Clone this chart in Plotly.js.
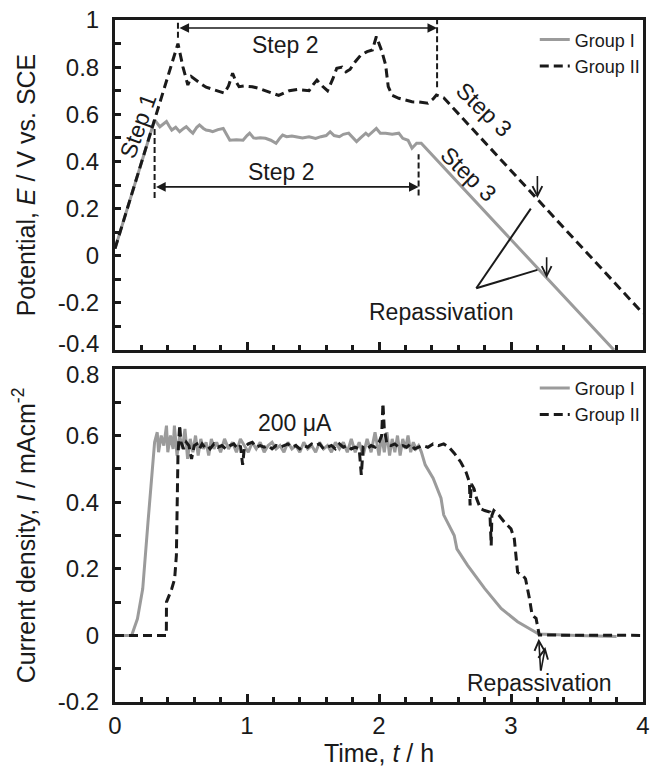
<!DOCTYPE html>
<html><head><meta charset="utf-8">
<script src="https://cdn.plot.ly/plotly-3.0.1.min.js"></script>
<style>html,body{margin:0;padding:0;background:#fff}#chart{width:653px;height:767px}</style>
</head><body><div id="chart"></div>
<script>
// ---------- Top panel: Potential E (V vs. SCE) vs time t (h) ----------
const potTimeGroupI = [0, 0.30, 0.34, 0.37, 0.39, 0.41, 0.43, 0.46, 0.49, 0.52, 0.54, 0.57, 0.59, 0.62, 0.64, 0.67, 0.69, 0.72, 0.74, 0.78, 0.82, 0.85, 0.87, 0.92, 0.97, 1.0, 1.02, 1.05, 1.07, 1.1, 1.14, 1.18, 1.22, 1.25, 1.27, 1.3, 1.34, 1.37, 1.42, 1.47, 1.52, 1.56, 1.6, 1.63, 1.66, 1.7, 1.73, 1.77, 1.8, 1.83, 1.86, 1.9, 1.92, 1.95, 1.98, 2.01, 2.05, 2.1, 2.15, 2.18, 2.22, 2.25, 2.285, 2.32, 3.78];
const potGroupI = [0.03, 0.576, 0.547, 0.56, 0.569, 0.55, 0.533, 0.545, 0.526, 0.54, 0.547, 0.53, 0.52, 0.545, 0.555, 0.54, 0.533, 0.53, 0.526, 0.535, 0.54, 0.51, 0.49, 0.492, 0.49, 0.51, 0.52, 0.50, 0.498, 0.50, 0.498, 0.49, 0.477, 0.50, 0.512, 0.505, 0.508, 0.505, 0.50, 0.505, 0.498, 0.505, 0.51, 0.526, 0.51, 0.505, 0.515, 0.52, 0.50, 0.484, 0.50, 0.52, 0.51, 0.525, 0.54, 0.52, 0.52, 0.515, 0.52, 0.498, 0.49, 0.456, 0.477, 0.477, -0.4];

const potTimeGroupII = [0, 0.477, 0.515, 0.552, 0.578, 0.61, 0.65, 0.69, 0.716, 0.76, 0.80, 0.829, 0.86, 0.891, 0.915, 0.94, 0.98, 1.04, 1.09, 1.14, 1.19, 1.24, 1.28, 1.32, 1.38, 1.44, 1.47, 1.50, 1.53, 1.57, 1.61, 1.65, 1.68, 1.72, 1.75, 1.78, 1.82, 1.86, 1.91, 1.95, 1.98, 2.02, 2.05, 2.07, 2.10, 2.15, 2.20, 2.25, 2.30, 2.37, 2.41, 2.435, 2.49, 4.0];
const potGroupII = [0.03, 0.90, 0.80, 0.724, 0.76, 0.745, 0.73, 0.715, 0.71, 0.70, 0.695, 0.69, 0.72, 0.774, 0.74, 0.717, 0.72, 0.717, 0.71, 0.70, 0.69, 0.68, 0.69, 0.70, 0.705, 0.70, 0.70, 0.725, 0.745, 0.72, 0.70, 0.75, 0.795, 0.80, 0.78, 0.79, 0.823, 0.85, 0.866, 0.873, 0.93, 0.87, 0.81, 0.717, 0.68, 0.668, 0.66, 0.653, 0.652, 0.647, 0.665, 0.682, 0.67, -0.245];

// ---------- Bottom panel: Current density I (mA cm-2) vs time t (h) ----------
const curTimeGroupI = [0, 0.126, 0.17, 0.21, 0.25, 0.29, 0.30, 0.32, 0.33, 0.35, 0.37, 0.39, 0.40, 0.42, 0.44, 0.45, 0.47, 0.49, 0.51, 0.53, 0.55, 0.57, 0.59, 0.61, 0.63, 0.65, 0.67, 0.69, 0.71, 0.73, 0.75, 0.77, 0.80, 0.83, 0.86, 0.89, 0.92, 0.95, 0.98, 1.01, 1.04, 1.07, 1.10, 1.13, 1.16, 1.19, 1.22, 1.25, 1.28, 1.31, 1.34, 1.37, 1.40, 1.43, 1.46, 1.49, 1.52, 1.55, 1.58, 1.61, 1.64, 1.67, 1.70, 1.73, 1.76, 1.79, 1.82, 1.85, 1.88, 1.91, 1.94, 1.97, 2.00, 2.02, 2.04, 2.06, 2.08, 2.10, 2.12, 2.14, 2.16, 2.18, 2.20, 2.22, 2.24, 2.26, 2.28, 2.30, 2.32, 2.35, 2.41, 2.47, 2.49, 2.57, 2.59, 2.67, 2.80, 2.925, 3.05, 3.18, 3.21, 3.5, 3.8];
const curGroupI = [0, 0, 0.05, 0.14, 0.34, 0.54, 0.58, 0.61, 0.55, 0.60, 0.57, 0.63, 0.55, 0.60, 0.56, 0.63, 0.54, 0.60, 0.56, 0.62, 0.53, 0.59, 0.55, 0.60, 0.54, 0.59, 0.56, 0.58, 0.54, 0.59, 0.56, 0.58, 0.55, 0.59, 0.56, 0.58, 0.55, 0.59, 0.57, 0.55, 0.58, 0.56, 0.58, 0.55, 0.57, 0.58, 0.56, 0.57, 0.55, 0.58, 0.56, 0.57, 0.55, 0.58, 0.56, 0.57, 0.55, 0.58, 0.56, 0.57, 0.55, 0.58, 0.56, 0.58, 0.55, 0.59, 0.55, 0.58, 0.54, 0.59, 0.55, 0.61, 0.54, 0.60, 0.55, 0.61, 0.54, 0.59, 0.55, 0.60, 0.54, 0.59, 0.56, 0.60, 0.55, 0.58, 0.56, 0.57, 0.552, 0.512, 0.472, 0.412, 0.362, 0.30, 0.26, 0.211, 0.141, 0.081, 0.041, 0.011, 0.004, 0.0, -0.003];

const curTimeGroupII = [0, 0.389, 0.39, 0.43, 0.452, 0.465, 0.477, 0.49, 0.50, 0.52, 0.54, 0.56, 0.58, 0.60, 0.62, 0.64, 0.66, 0.68, 0.70, 0.72, 0.75, 0.78, 0.81, 0.84, 0.87, 0.90, 0.93, 0.95, 0.967, 0.98, 1.01, 1.04, 1.07, 1.10, 1.13, 1.16, 1.19, 1.22, 1.25, 1.28, 1.31, 1.34, 1.37, 1.40, 1.43, 1.46, 1.49, 1.52, 1.55, 1.58, 1.61, 1.64, 1.67, 1.70, 1.73, 1.76, 1.79, 1.82, 1.85, 1.866, 1.88, 1.91, 1.94, 1.97, 2.00, 2.02, 2.03, 2.04, 2.06, 2.09, 2.12, 2.15, 2.18, 2.21, 2.24, 2.27, 2.30, 2.33, 2.37, 2.41, 2.45, 2.49, 2.53, 2.57, 2.62, 2.66, 2.685, 2.69, 2.70, 2.72, 2.74, 2.77, 2.80, 2.84, 2.85, 2.855, 2.87, 2.91, 2.95, 3.00, 3.025, 3.05, 3.09, 3.11, 3.14, 3.16, 3.19, 3.214, 4.0];
const curGroupII = [0, 0, 0.10, 0.14, 0.17, 0.24, 0.54, 0.632, 0.58, 0.56, 0.58, 0.57, 0.53, 0.57, 0.575, 0.56, 0.575, 0.565, 0.57, 0.56, 0.575, 0.565, 0.57, 0.56, 0.57, 0.575, 0.56, 0.57, 0.512, 0.565, 0.575, 0.58, 0.565, 0.57, 0.565, 0.57, 0.56, 0.57, 0.565, 0.57, 0.575, 0.565, 0.57, 0.56, 0.57, 0.565, 0.575, 0.57, 0.575, 0.56, 0.565, 0.57, 0.56, 0.575, 0.565, 0.57, 0.56, 0.565, 0.56, 0.482, 0.565, 0.56, 0.57, 0.565, 0.58, 0.60, 0.697, 0.62, 0.575, 0.57, 0.575, 0.565, 0.57, 0.565, 0.575, 0.56, 0.565, 0.57, 0.565, 0.575, 0.57, 0.575, 0.565, 0.547, 0.52, 0.49, 0.46, 0.39, 0.455, 0.44, 0.41, 0.38, 0.375, 0.37, 0.27, 0.36, 0.375, 0.36, 0.34, 0.32, 0.29, 0.19, 0.18, 0.17, 0.11, 0.061, 0.051, 0.001, 0.0];

// ---------- Tick labels ----------
const timeTicks = [0, 1, 2, 3, 4];
const timeTickText = ['0', '1', '2', '3', '4'];
const potTicks = [-0.2, 0, 0.2, 0.4, 0.6, 0.8, 1];
const potTickText = ['-0.2', '0', '0.2', '0.4', '0.6', '0.8', '1'];
const potEdgeTick = -0.4, potEdgeLabel = '-0.4';   // bottom-edge label, nudged up as in the original
const curTicks = [-0.2, 0, 0.2, 0.4, 0.6];
const curTickText = ['-0.2', '0', '0.2', '0.4', '0.6'];
const curEdgeTick = 0.8, curEdgeLabel = '0.8';     // top-edge label, nudged down as in the original
const seriesNames = ['Group I', 'Group II'];

const FONT = 'Liberation Sans, Arial, Helvetica, sans-serif';
const INK = '#1a1a1a';
const GRAY = '#9b9b9b';

const grayLine = {color: GRAY, width: 3};
const blackLine = {color: INK, width: 3, dash: '9px,5px'};

const traces = [
  {x: potTimeGroupI, y: potGroupI, xaxis: 'x2', yaxis: 'y2', type: 'scatter', mode: 'lines', name: seriesNames[0], line: grayLine, legend: 'legend'},
  {x: potTimeGroupII, y: potGroupII, xaxis: 'x2', yaxis: 'y2', type: 'scatter', mode: 'lines', name: seriesNames[1], line: blackLine, legend: 'legend'},
  {x: curTimeGroupI, y: curGroupI, xaxis: 'x', yaxis: 'y', type: 'scatter', mode: 'lines', name: seriesNames[0], line: grayLine, legend: 'legend2'},
  {x: curTimeGroupII, y: curGroupII, xaxis: 'x', yaxis: 'y', type: 'scatter', mode: 'lines', name: seriesNames[1], line: blackLine, legend: 'legend2'}
];

const TICKSIZE = 24;
function axisBase() {
  return {
    showgrid: false, zeroline: false, showline: true, linewidth: 3, linecolor: INK, mirror: true,
    ticks: 'inside', ticklen: 8, tickwidth: 3, tickcolor: INK,
    tickfont: {family: FONT, size: TICKSIZE, color: INK},
    tickmode: 'array', automargin: false
  };
}

const xBottom = Object.assign(axisBase(), {
  domain: [0, 1], anchor: 'y', range: [0, 4], tickvals: timeTicks, ticktext: timeTickText,
  minor: {tickmode: 'linear', tick0: 0, dtick: 0.2, ticks: 'inside', ticklen: 5, tickwidth: 3, tickcolor: INK},
  ticklabelstandoff: 0,
  title: {text: 'Time, <i>t</i> / h', font: {family: FONT, size: 25, color: INK}, standoff: 6}
});
const xTop = Object.assign(axisBase(), {
  domain: [0, 1], anchor: 'y2', range: [0, 4], tickvals: timeTicks, showticklabels: false,
  minor: {tickmode: 'linear', tick0: 0, dtick: 0.2, ticks: 'inside', ticklen: 5, tickwidth: 3, tickcolor: INK}
});
const yBottom = Object.assign(axisBase(), {
  domain: [0, 0.4883], anchor: 'x', range: [-0.2, 0.8], tickvals: curTicks, ticktext: curTickText,
  ticklen: 6,
  minor: {tickmode: 'linear', tick0: 0, dtick: 0.1, ticks: 'inside', ticklen: 6, tickwidth: 3, tickcolor: INK},
  ticklabelstandoff: 8,
  title: {text: 'Current density, <i>I</i> / mAcm<sup>-2</sup>', font: {family: FONT, size: 25, color: INK}, standoff: 16}
});
const yTop = Object.assign(axisBase(), {
  domain: [0.5161, 1], anchor: 'x2', range: [-0.4, 1], tickvals: potTicks, ticktext: potTickText,
  ticklen: 6,
  minor: {tickmode: 'linear', tick0: 0, dtick: 0.1, ticks: 'inside', ticklen: 6, tickwidth: 3, tickcolor: INK},
  ticklabelstandoff: 8,
  title: {text: 'Potential, <i>E</i> / V vs. SCE', font: {family: FONT, size: 25, color: INK}, standoff: 16}
});

const annFont = {family: FONT, size: 23, color: INK};
function txt(x, y, text, xref, yref, angle) {
  return {x: x, y: y, xref: xref, yref: yref, text: text, showarrow: false, font: annFont, textangle: angle || 0, xanchor: 'center', yanchor: 'middle'};
}
function arrow(xTip, yTip, xTail, yTail, xref, yref, both, head) {
  return {x: xTip, y: yTip, ax: xTail, ay: yTail, xref: xref, yref: yref, axref: xref, ayref: yref,
    text: '', showarrow: true, arrowhead: head, startarrowhead: head, arrowside: both ? 'end+start' : 'end',
    arrowsize: 1.2, startarrowsize: 1.2, arrowwidth: 1.6, arrowcolor: INK, standoff: 0, startstandoff: 0};
}
function edgeTick(text, yVal, yref, shift) {
  return {x: 0, y: yVal, xref: 'paper', yref: yref, text: text, showarrow: false,
    font: {family: FONT, size: TICKSIZE, color: INK}, xanchor: 'right', yanchor: 'middle',
    xshift: -15, yshift: shift, borderpad: 0};
}

const annotations = [
  edgeTick(potEdgeLabel, potEdgeTick, 'y2', 7),
  edgeTick(curEdgeLabel, curEdgeTick, 'y', -6),
  txt(0.175, 0.55, 'Step 1', 'x2', 'y2', -70),
  txt(1.29, 0.895, 'Step 2', 'x2', 'y2'),
  txt(1.26, 0.355, 'Step 2', 'x2', 'y2'),
  txt(2.80, 0.62, 'Step 3', 'x2', 'y2', 44),
  txt(2.675, 0.345, 'Step 3', 'x2', 'y2', 44),
  txt(2.47, -0.237, 'Repassivation', 'x2', 'y2'),
  arrow(2.44, 0.966, 0.477, 0.966, 'x2', 'y2', true, 2),
  arrow(2.30, 0.292, 0.30, 0.292, 'x2', 'y2', true, 2),
  arrow(3.2, 0.245, 3.2, 0.345, 'x2', 'y2', false, 5),
  arrow(3.27, -0.095, 3.27, 0.0, 'x2', 'y2', false, 5),
  txt(1.365, 0.638, '200 μA', 'x', 'y'),
  txt(3.21, -0.144, 'Repassivation', 'x', 'y'),
  arrow(3.21, -0.01, 3.225, -0.11, 'x', 'y', false, 5),
  arrow(3.26, -0.035, 3.225, -0.11, 'x', 'y', false, 5)
];

const dashV = {color: INK, width: 2, dash: '6px,3px'};
const shapes = [
  {type: 'line', xref: 'x2', yref: 'y2', x0: 0.477, x1: 0.477, y0: 0.925, y1: 0.99, line: dashV},
  {type: 'line', xref: 'x2', yref: 'y2', x0: 2.44, x1: 2.44, y0: 0.715, y1: 1.0, line: dashV},
  {type: 'line', xref: 'x2', yref: 'y2', x0: 0.30, x1: 0.30, y0: 0.245, y1: 0.55, line: dashV},
  {type: 'line', xref: 'x2', yref: 'y2', x0: 2.30, x1: 2.30, y0: 0.255, y1: 0.43, line: dashV},
  {type: 'line', xref: 'x2', yref: 'y2', x0: 2.737, y0: -0.138, x1: 3.15, y1: 0.20, line: {color: INK, width: 2}},
  {type: 'line', xref: 'x2', yref: 'y2', x0: 2.737, y0: -0.138, x1: 3.20, y1: -0.06, line: {color: INK, width: 2}}
];

const legendBase = {
  font: {family: FONT, size: 18, color: INK}, bgcolor: 'rgba(0,0,0,0)', borderwidth: 0,
  xanchor: 'left', yanchor: 'top', tracegroupgap: 0, itemclick: false
};

const layout = {
  width: 653, height: 767,
  margin: {l: 115, r: 7, t: 20, b: 65},
  paper_bgcolor: '#fff', plot_bgcolor: '#fff',
  font: {family: FONT, color: INK},
  showlegend: true,
  legend: Object.assign({}, legendBase, {x: 0.795, y: 0.998}),
  legend2: Object.assign({}, legendBase, {x: 0.795, y: 0.487}),
  xaxis: xBottom, xaxis2: xTop, yaxis: yBottom, yaxis2: yTop,
  annotations: annotations, shapes: shapes
};

Plotly.newPlot('chart', traces, layout, {displayModeBar: false, staticPlot: true});
</script>
</body></html>
